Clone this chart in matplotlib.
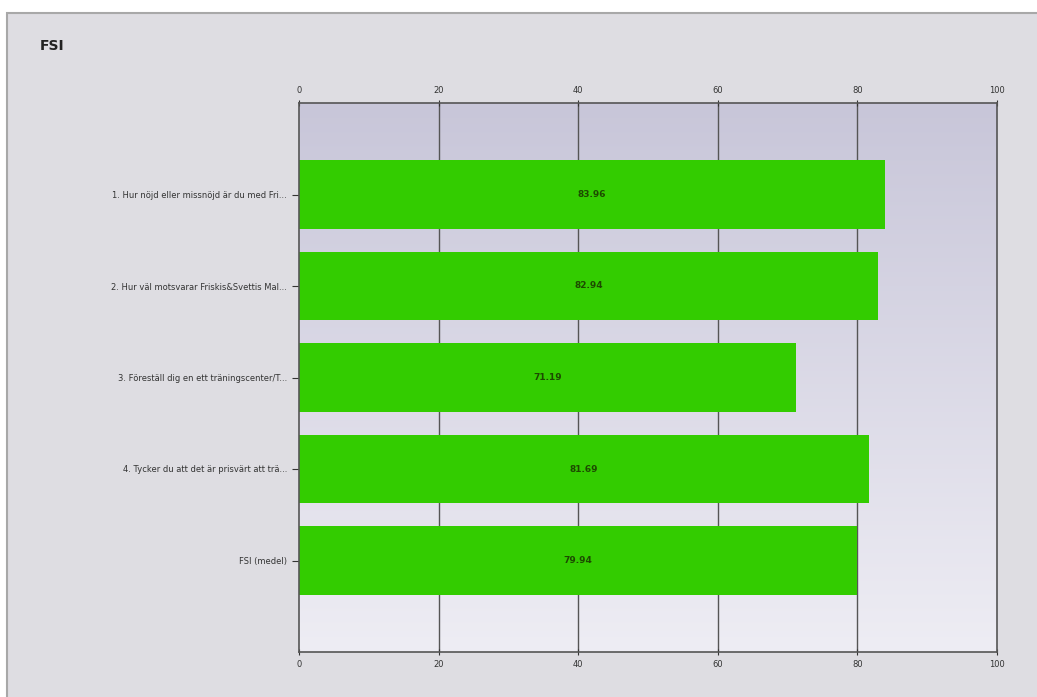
import numpy as np
import matplotlib.pyplot as plt
from matplotlib.colors import LinearSegmentedColormap
from matplotlib.patches import Rectangle

# data
labels = ["1. Hur nöjd eller missnöjd är du med Fri...",
          "2. Hur väl motsvarar Friskis&Svettis Mal...",
          "3. Föreställ dig en ett träningscenter/T...",
          "4. Tycker du att det är prisvärt att trä...",
          "FSI (medel)"]
values = [83.96, 82.94, 71.19, 81.69, 79.94]
xticks = [0, 20, 40, 60, 80, 100]

fig = plt.figure(figsize=(10.37, 6.97), dpi=100)
fig.patch.set_facecolor("white")

# grey panel behind everything, in its own axes at the back
bg = fig.add_axes([0, 0, 1, 1], zorder=-5)
bg.set_xlim(0, 1037)
bg.set_ylim(697, 0)
bg.axis("off")
bg.add_patch(Rectangle((7, 13), 1040, 700, facecolor="#dedde2", edgecolor="#a8a8a8", lw=1.5))
bg.text(40, 46, "FSI", fontsize=10, fontweight="bold", color="#222222",
        va="center", ha="left")

ax = fig.add_axes([299 / 1037, 1 - 652 / 697, 698 / 1037, 549 / 697])

# gradient plot background
cmap = LinearSegmentedColormap.from_list("bg", ["#c8c6d9", "#eeedf4"])
grad = np.linspace(0, 1, 256).reshape(-1, 1)
ax.imshow(grad, cmap=cmap, aspect="auto", extent=[0, 100, 6, 0], zorder=0)

y = np.arange(1, len(values) + 1)
ax.barh(y, values, height=0.75, color="#33cc00", zorder=2)
for yi, v in zip(y, values):
    ax.text(v / 2, yi, f"{v:.2f}", ha="center", va="center", fontsize=6.5,
            fontweight="bold", color="#1d4a00", zorder=3)

for xt in xticks[1:-1]:
    ax.axvline(xt, color="#555555", lw=1.0, zorder=1)

ax.set_xlim(0, 100)
ax.set_ylim(6, 0)
ax.set_xticks(xticks)
ax.tick_params(axis="x", top=True, labeltop=True, bottom=True, labelbottom=True,
               labelsize=6, colors="#333333", length=5, direction="inout")
ax.set_yticks(y)
ax.set_yticklabels(labels, fontsize=6, color="#333333")
ax.tick_params(axis="y", length=5, color="#333333")
for s in ax.spines.values():
    s.set_color("#555555")
    s.set_linewidth(1.2)

fig.savefig("out.png", dpi=100, facecolor=fig.get_facecolor())
